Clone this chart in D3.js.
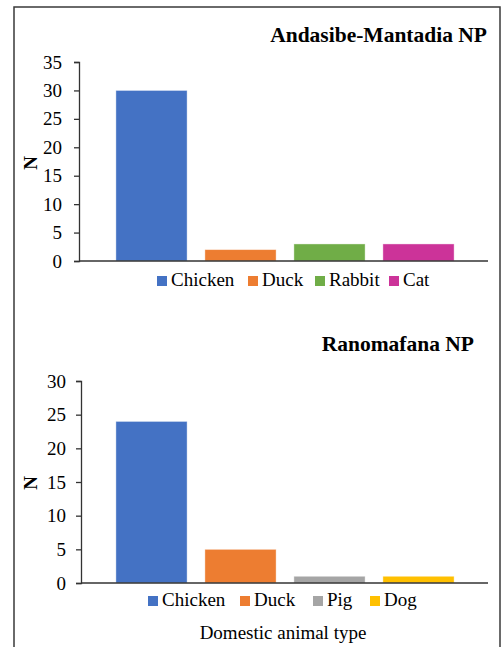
<!DOCTYPE html>
<html><head><meta charset="utf-8">
<script src="https://cdn.jsdelivr.net/npm/d3@7"></script>
<style>body{margin:0;background:#fff}svg{display:block}text{font-family:"Liberation Serif","Times New Roman",serif;fill:#000}</style>
</head><body>
<svg id="c" width="504" height="647"></svg>
<script>
const categoriesA = ["Chicken","Duck","Rabbit","Cat"];
const valuesA = [30,2,3,3];
const colorsA = ["#4472C4","#ED7D31","#70AD47","#CC3399"];
const ticksA = [0,5,10,15,20,25,30,35];
const titleA = "Andasibe-Mantadia NP";

const categoriesB = ["Chicken","Duck","Pig","Dog"];
const valuesB = [24,5,1,1];
const colorsB = ["#4472C4","#ED7D31","#A5A5A5","#FFC000"];
const ticksB = [0,5,10,15,20,25,30];
const titleB = "Ranomafana NP";

const yLabel = "N";
const xLabel = "Domestic animal type";

const svg = d3.select("#c");
svg.append("rect").attr("x",14).attr("y",7).attr("width",486).attr("height",660)
  .attr("fill","none").attr("stroke","#3a3a3a").attr("stroke-width",1.5);

function panel(cfg){
  const g = svg.append("g");
  const y = d3.scaleLinear().domain([0, d3.max(cfg.ticks)]).range([cfg.y0, cfg.y1]);
  const x = d3.scaleBand().domain(cfg.cats).range([107,463]).paddingInner(0.2).paddingOuter(0.1);
  g.selectAll("rect.bar").data(cfg.vals).enter().append("rect")
    .attr("x",(d,i)=>x(cfg.cats[i])).attr("width",x.bandwidth())
    .attr("y",d=>y(d)).attr("height",d=>y(0)-y(d))
    .attr("fill",(d,i)=>cfg.colors[i]).attr("stroke","#fff").attr("stroke-opacity",0.5).attr("stroke-width",0.8);
  const ax = g.append("g").attr("transform",`translate(${cfg.ax},0)`)
    .call(d3.axisLeft(y).tickValues(cfg.ticks).tickSize(5).tickPadding(cfg.pad).tickFormat(d3.format("d")));
  ax.select(".domain").attr("stroke","#333").attr("stroke-width",1.3);
  ax.selectAll(".tick line").attr("stroke","#333").attr("stroke-width",1.3);
  ax.selectAll(".tick text").attr("font-size",19).attr("fill","#000");
  g.append("line").attr("x1",cfg.ax).attr("x2",488).attr("y1",y(0)).attr("y2",y(0))
    .attr("stroke","#333").attr("stroke-width",1.5);
  g.append("text").attr("x",cfg.tx).attr("y",cfg.ty).attr("text-anchor","end")
    .attr("font-size",21.5).attr("font-weight","bold").text(cfg.title);
  g.append("text").attr("transform",`translate(37,${cfg.ly}) rotate(-90)`).attr("text-anchor","middle")
    .attr("font-size",19).attr("font-weight","bold").text(yLabel);
  const lg = g.append("g");
  cfg.cats.forEach((c,i)=>{
    lg.append("rect").attr("x",cfg.lx[i]).attr("y",cfg.lb-10).attr("width",10).attr("height",10).attr("fill",cfg.colors[i]);
    lg.append("text").attr("x",cfg.lx[i]+14).attr("y",cfg.lb).attr("font-size",19).text(c);
  });
}

panel({cats:categoriesA, vals:valuesA, colors:colorsA, ticks:ticksA, title:titleA,
  y0:261, y1:62, ax:79, pad:12, tx:487, ty:42, ly:163, lx:[157,248,315,389], lb:286});
panel({cats:categoriesB, vals:valuesB, colors:colorsB, ticks:ticksB, title:titleB,
  y0:583, y1:381, ax:81, pad:10, tx:474, ty:351, ly:483, lx:[148,240,313,370], lb:606});

svg.append("text").attr("x",283).attr("y",639).attr("text-anchor","middle").attr("font-size",19).text(xLabel);
</script>
</body></html>
